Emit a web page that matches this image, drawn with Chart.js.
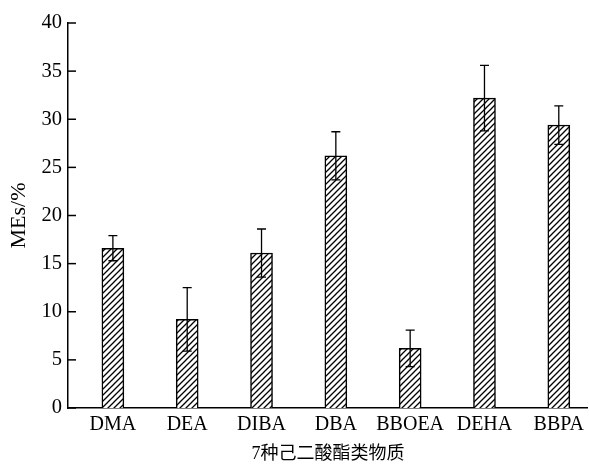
<!DOCTYPE html>
<html>
<head>
<meta charset="utf-8">
<script src="https://cdn.jsdelivr.net/npm/chart.js@4"></script>
<style>body{margin:0;background:#fff}</style>
</head>
<body>
<canvas id="myChart" width="589" height="465"></canvas>
<script>
const LABELS = ['DMA', 'DEA', 'DIBA', 'DBA', 'BBOEA', 'DEHA', 'BBPA'];
const MES = [16.6, 9.2, 16.1, 26.2, 6.2, 32.2, 29.4];
const ERRORS = [1.3, 3.3, 2.5, 2.5, 1.9, 3.4, 2.0];
const Y_TICKS = [0, 5, 10, 15, 20, 25, 30, 35, 40];

const SERIF = '"Liberation Serif", "Times New Roman", "Noto Sans CJK SC", serif';

var ctx = document.getElementById('myChart').getContext('2d');

//diagonal hatch fill for the bars
function hatch() {
  var c = document.createElement('canvas');
  c.width = 6; c.height = 6;
  var g = c.getContext('2d');
  g.fillStyle = '#fff';
  g.fillRect(0, 0, 6, 6);
  g.strokeStyle = '#000';
  g.lineWidth = 1.3;
  g.beginPath();
  g.moveTo(-1, 7); g.lineTo(7, -1);
  g.moveTo(-1, 1); g.lineTo(1, -1);
  g.moveTo(5, 7); g.lineTo(7, 5);
  g.stroke();
  return ctx.createPattern(c, 'repeat');
}

//error bars + inward y ticks
const extras = {
  id: 'extras',
  afterDatasetsDraw(chart) {
    var y = chart.scales.y;
    var meta = chart.getDatasetMeta(0);
    var c = chart.ctx;
    c.save();
    c.strokeStyle = '#000';
    c.lineWidth = 1.3;
    meta.data.forEach((bar, i) => {
      var top = y.getPixelForValue(MES[i] + ERRORS[i]);
      var bot = y.getPixelForValue(MES[i] - ERRORS[i]);
      c.beginPath();
      c.moveTo(bar.x, top); c.lineTo(bar.x, bot);
      c.moveTo(bar.x - 4.5, top); c.lineTo(bar.x + 4.5, top);
      c.moveTo(bar.x - 4.5, bot); c.lineTo(bar.x + 4.5, bot);
      c.stroke();
    });
    c.lineWidth = 1.5;
    Y_TICKS.forEach(v => {
      var p = y.getPixelForValue(v);
      c.beginPath();
      c.moveTo(y.right, p); c.lineTo(y.right + 8, p);
      c.stroke();
    });
    c.restore();
  }
};

new Chart(ctx, {
  type: 'bar',
  data: {
    datasets: [{
      data: MES.map((v, i) => ({x: i, y: v})),
      backgroundColor: hatch(),
      borderColor: '#000',
      borderWidth: 1.5,
      barThickness: 22
    }]
  },
  options: {
    responsive: false,
    animation: false,
    layout: {padding: {top: 23, right: 0, left: 0, bottom: 0}},
    plugins: {legend: {display: false}, tooltip: {enabled: false}},
    scales: {
      x: {
        type: 'linear',
        offset: false,
        min: -0.604,
        max: 6.39,
        afterBuildTicks: s => { s.ticks = LABELS.map((_, i) => ({value: i})); },
        afterFit: s => { s.height = 57; },
        grid: {display: false, drawTicks: false, offset: false},
        border: {display: true, color: '#000', width: 1.5},
        ticks: {
          callback: v => LABELS[v],
          color: '#000',
          padding: 5,
          maxRotation: 0,
          autoSkip: false,
          font: {family: SERIF, size: 20}
        },
        title: {
          display: true,
          text: '7种己二酸酯类物质',
          color: '#000',
          padding: {top: 1, bottom: 0},
          font: {family: SERIF, size: 18}
        }
      },
      y: {
        min: 0,
        max: 40,
        afterBuildTicks: s => { s.ticks = Y_TICKS.map(v => ({value: v})); },
        afterFit: s => { s.width = 68; },
        grid: {display: false, drawTicks: false},
        border: {display: true, color: '#000', width: 1.5},
        ticks: {
          color: '#000',
          padding: 6,
          font: {family: SERIF, size: 20.5}
        },
        title: {
          display: true,
          text: 'MEs/%',
          color: '#000',
          padding: {top: 6, bottom: 2},
          font: {family: SERIF, size: 22}
        }
      }
    }
  },
  plugins: [extras]
});
</script>
</body>
</html>
